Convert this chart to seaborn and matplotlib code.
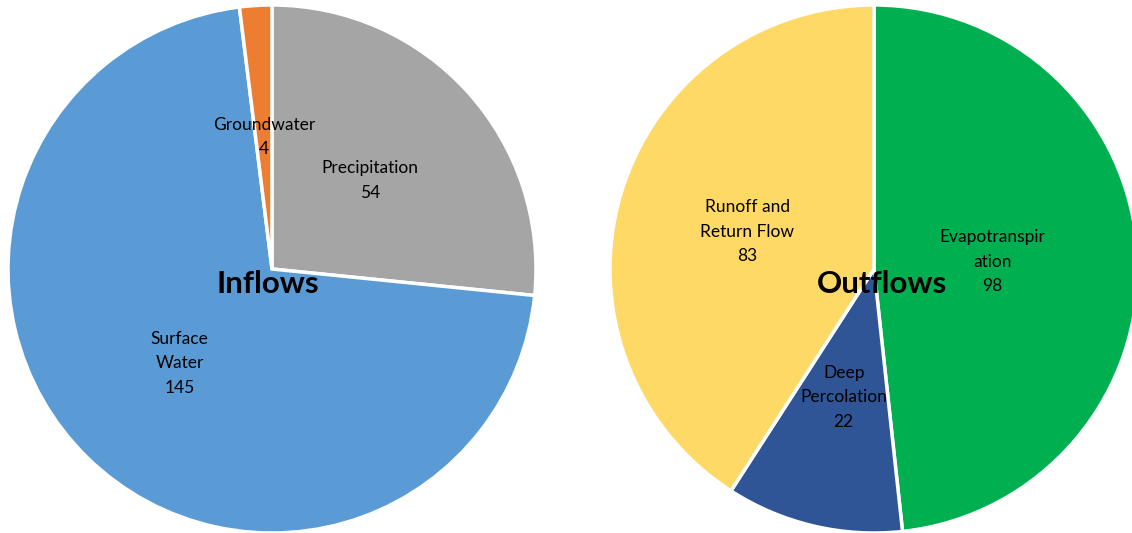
import matplotlib
matplotlib.use("Agg")
import matplotlib.pyplot as plt
import seaborn as sns

# inflows
in_labels = ["Precipitation\n54", "Surface\nWater\n145", "Groundwater\n4"]
in_values = [54, 145, 4]
in_colors = ["#A5A5A5", "#5B9BD5", "#ED7D31"]

# outflows
out_labels = ["Evapotranspir\nation\n98", "Deep\nPercolation\n22", "Runoff and\nReturn Flow\n83"]
out_values = [98, 22, 83]
out_colors = ["#00B050", "#2F5597", "#FFD966"]

sns.set_style("white")
plt.rcParams['font.family'] = ['Lato', 'DejaVu Sans']

fig = plt.figure(figsize=(11.32, 5.33), dpi=100)
ax1 = fig.add_axes([8/1132, 0, 528/1132, 528/533])
ax2 = fig.add_axes([610/1132, 0, 528/1132, 528/533])

def draw_pie(ax, vals, labs, cols, title, tx):
    wedges, texts = ax.pie(vals, labels=labs, colors=cols, startangle=90, counterclock=False,
                           labeldistance=0.5,
                           wedgeprops=dict(edgecolor="white", linewidth=2.5),
                           textprops=dict(ha="center", va="center", fontsize=12.5,
                                          color="black", linespacing=1.65))
    ax.set_xlim(-1.0, 1.0)
    ax.set_ylim(-1.0, 1.0)
    ax.set_aspect("equal")
    ax.axis("off")
    ax.text(tx, -0.055, title, ha="center", va="center", fontsize=22.5,
            fontweight="bold", color="black")
    return texts

draw_pie(ax1, in_values, in_labels, in_colors, "Inflows", -0.015)
out_texts = draw_pie(ax2, out_values, out_labels, out_colors, "Outflows", 0.03)
# the long evapotranspiration label sits a bit closer to the middle
x, y = out_texts[0].get_position()
out_texts[0].set_position((x * 0.9, y))

plt.savefig("out.png", dpi=100)
